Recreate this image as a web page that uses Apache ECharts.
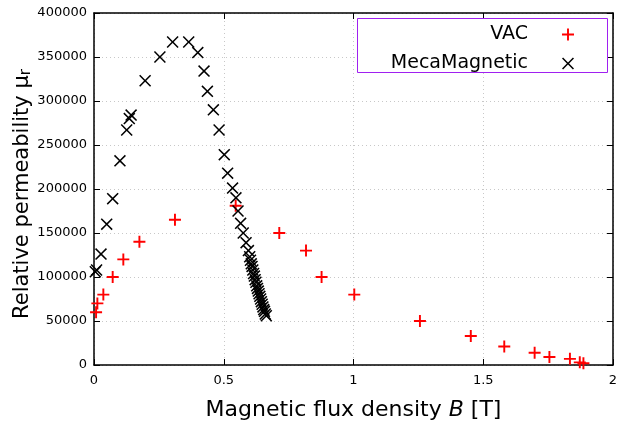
<!DOCTYPE html>
<html>
<head>
<meta charset="utf-8">
<script src="https://cdn.jsdelivr.net/npm/echarts@6/dist/echarts.min.js"></script>
<style>
  html,body{margin:0;padding:0;background:#fff;}
  #main{width:622px;height:421px;}
</style>
</head>
<body>
<div id="main"></div>
<script>
// VAC measurement points (B in T, mu_r)
var vacB  = [0.008, 0.013, 0.036, 0.072, 0.113, 0.175, 0.312, 0.546, 0.714, 0.817, 0.877, 1.003, 1.256, 1.452, 1.581, 1.698, 1.755, 1.834, 1.872, 1.886]
var vacMu = [60000, 70000, 80000, 100000, 120000, 140000, 165000, 181000, 150000, 130000, 100000, 80000, 50000, 33000, 21000, 14000, 9000, 7000, 3000, 2000]

// MecaMagnetic points
var mecaB  = [0.005, 0.010, 0.027, 0.049, 0.072, 0.100, 0.126, 0.136, 0.143, 0.197, 0.254, 0.303, 0.365, 0.400, 0.424, 0.437, 0.460, 0.482, 0.502, 0.515, 0.534,
              0.547, 0.555, 0.565, 0.575, 0.586, 0.595,
              0.600, 0.603, 0.606, 0.609, 0.612, 0.615, 0.618, 0.621, 0.624, 0.627, 0.630, 0.633, 0.636, 0.639, 0.642, 0.645, 0.648, 0.651, 0.654, 0.657, 0.660, 0.664]
var mecaMu = [106000, 108000, 126000, 160000, 189000, 232000, 267000, 280000, 284000, 323000, 350000, 367000, 367000, 355000, 334000, 311000, 290000, 267000, 239000, 218000, 201000,
              190000, 175000, 161000, 150000, 139000, 130000,
              123000, 119000, 115000, 112000, 108000, 104000, 101000, 97000, 94000, 90000, 87000, 84000, 81000, 78000, 75000, 72000, 69000, 66000, 63000, 61000, 58000, 56000]

var xTicks = [0, 0.5, 1, 1.5, 2]
var yTicks = [0, 50000, 100000, 150000, 200000, 250000, 300000, 350000, 400000]

var FONT = 'DejaVu Sans'
/* 点的形状 (filled so the stroke width is fixed) */
var PLUS = 'path://M4.2,0H5.8V4.2H10V5.8H5.8V10H4.2V5.8H0V4.2H4.2Z'
var CROSS = 'path://M0,0.9L0.9,0L5,4.1L9.1,0L10,0.9L5.9,5L10,9.1L9.1,10L5,5.9L0.9,10L0,9.1L4.1,5Z'

function pairs(xs, ys){
    return xs.map(function(x, i){ return [x, ys[i]] })
}

var chart = echarts.init(document.getElementById('main'), null, {renderer:'canvas'})

var gridLine = {show:true, lineStyle:{color:'#c8c8c8', width:1, type:[1,3]}}
var frameLine = {show:true, onZero:false, lineStyle:{color:'#000', width:1.5}}

var option = {
    backgroundColor:'#fff',
    animation:false,
    textStyle:{fontFamily:FONT},
    grid:{left:94, right:9, top:13, bottom:56, containLabel:false, outerBoundsMode:'none'},
    xAxis:[
        {
            type:'value', min:xTicks[0], max:xTicks[xTicks.length-1], interval:0.5,
            axisLine:frameLine,
            axisTick:{show:true, inside:true, length:6, lineStyle:{color:'#000', width:1}},
            axisLabel:{color:'#000', fontSize:13, fontFamily:FONT, margin:9},
            splitLine:gridLine,
            name:'Magnetic flux density {i|B} [T]',
            nameLocation:'middle',
            nameGap:34,
            nameMoveOverlap:false,
            nameTextStyle:{color:'#000', fontSize:22, fontFamily:FONT,
                rich:{i:{fontStyle:'italic', fontSize:22, fontFamily:FONT, color:'#000'}}}
        },
        {
            type:'value', position:'top', min:xTicks[0], max:xTicks[xTicks.length-1], interval:0.5,
            axisLine:frameLine,
            axisTick:{show:true, inside:true, length:6, lineStyle:{color:'#000', width:1}},
            axisLabel:{show:false},
            splitLine:{show:false}
        }
    ],
    yAxis:[
        {
            type:'value', min:yTicks[0], max:yTicks[yTicks.length-1], interval:50000,
            axisLine:frameLine,
            axisTick:{show:true, inside:true, length:6, lineStyle:{color:'#000', width:1}},
            axisLabel:{color:'#000', fontSize:13, fontFamily:FONT, margin:7,
                formatter:function(v){ return String(v) }},
            splitLine:gridLine,
            name:'Relative permeability μ{s|r}',
            nameLocation:'middle',
            nameGap:60,
            nameMoveOverlap:false,
            nameTextStyle:{color:'#000', fontSize:21, fontFamily:FONT, padding:[0,10,0,0],
                rich:{s:{fontSize:15, fontFamily:FONT, color:'#000', padding:[8,0,0,0]}}}
        },
        {
            type:'value', position:'right', min:yTicks[0], max:yTicks[yTicks.length-1], interval:50000,
            axisLine:frameLine,
            axisTick:{show:true, inside:true, length:6, lineStyle:{color:'#000', width:1}},
            axisLabel:{show:false},
            splitLine:{show:false}
        }
    ],
    legend:[
        {
            data:[{name:'VAC', icon:PLUS}], right:48, top:25, align:'right', orient:'vertical', padding:0,
            itemWidth:70, itemHeight:12, itemGap:0,
            textStyle:{color:'#000', fontSize:19, fontFamily:FONT}
        },
        {
            data:[{name:'MecaMagnetic', icon:CROSS}], right:48, top:54, align:'right', orient:'vertical', padding:0,
            itemWidth:70, itemHeight:12, itemGap:0,
            textStyle:{color:'#000', fontSize:19, fontFamily:FONT}
        }
    ],
    graphic:[
        {
            type:'rect', z:3, left:357, top:18,
            shape:{width:250, height:54},
            style:{fill:'#fff', stroke:'#a020f0', lineWidth:1}
        }
    ],
    series:[
        {
            name:'VAC', type:'scatter', z:3,
            data:pairs(vacB, vacMu),
            symbol:PLUS, symbolSize:12,
            itemStyle:{color:'#ff0000', opacity:1}
        },
        {
            name:'MecaMagnetic', type:'scatter', z:4,
            data:pairs(mecaB, mecaMu),
            symbol:CROSS, symbolSize:12,
            itemStyle:{color:'#000', opacity:1}
        }
    ]
}
chart.setOption(option)
</script>
</body>
</html>
